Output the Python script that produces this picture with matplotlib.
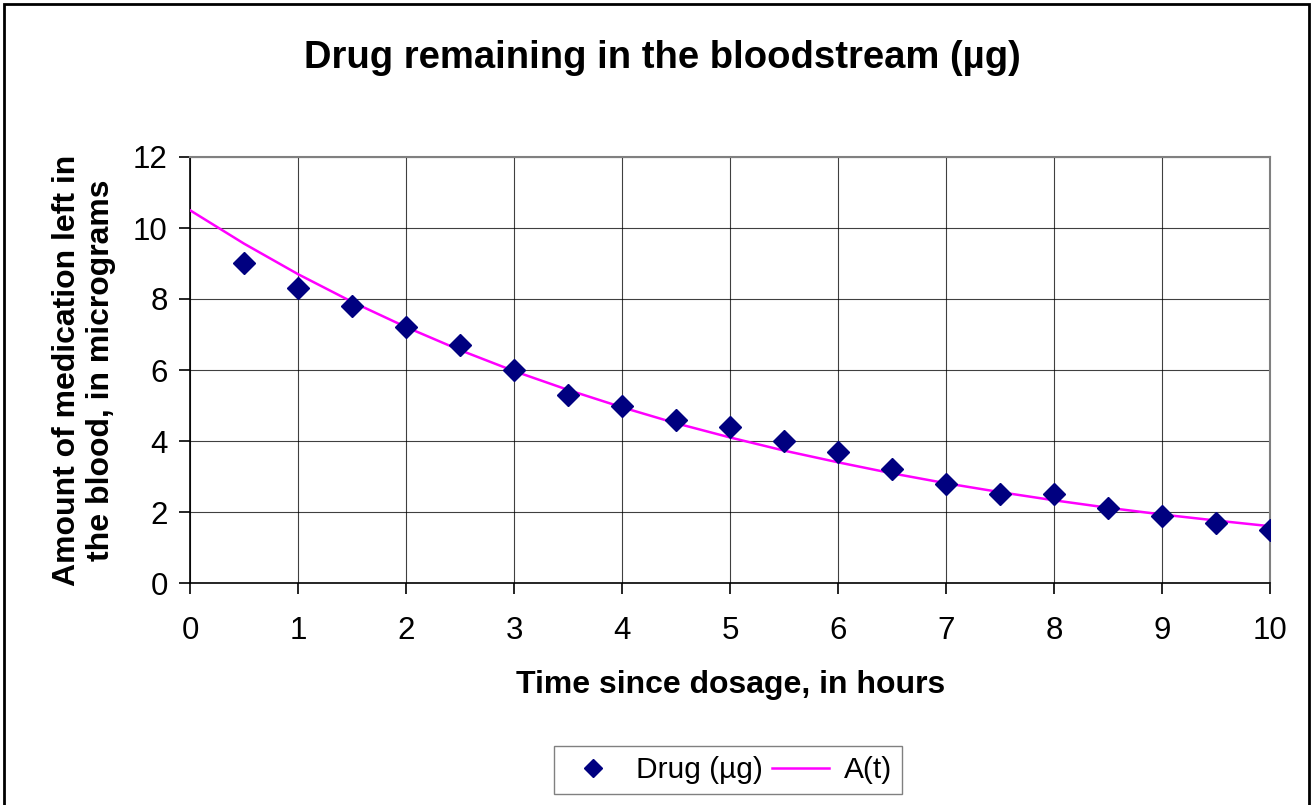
import matplotlib
matplotlib.use("Agg")
import matplotlib.pyplot as plt
from matplotlib.patches import Rectangle

plt.rcParams['font.family'] = ['Liberation Sans', 'DejaVu Sans']

# Observed data
hours = [0.5, 1, 1.5, 2, 2.5, 3, 3.5, 4, 4.5, 5, 5.5, 6, 6.5, 7, 7.5, 8, 8.5, 9, 9.5, 10]
drug = [9.0, 8.3, 7.8, 7.2, 6.7, 6.0, 5.3, 5.0, 4.6, 4.4, 4.0, 3.7, 3.2, 2.8, 2.5, 2.5, 2.1, 1.9, 1.7, 1.5]

# Model curve A(t)
curve_t = [0, 0.5, 1, 1.5, 2, 2.5, 3, 3.5, 4, 4.5, 5, 5.5, 6, 6.5, 7, 7.5, 8, 8.5, 9, 9.5, 10]
curve_a = [10.5, 9.56, 8.70, 7.92, 7.21, 6.56, 5.97, 5.44, 4.95, 4.50, 4.10, 3.73, 3.40,
           3.09, 2.81, 2.56, 2.33, 2.12, 1.93, 1.76, 1.60]

x_ticks = list(range(0, 11))
y_ticks = [0, 2, 4, 6, 8, 10, 12]

W, H = 1312, 805
fig = plt.figure(figsize=(W / 100, H / 100), dpi=100)
ax = fig.add_axes([190 / W, 1 - 583 / H, (1270 - 190) / W, (583 - 157) / H])

ax.plot(curve_t, curve_a, color='#FF00FF', lw=1.8, label='A(t)', zorder=3)
ax.plot(hours, drug, linestyle='none', marker='D', markersize=11, color='#000080',
        label='Drug (µg)', zorder=4)

ax.set_xlim(0, 10)
ax.set_ylim(0, 12)
ax.set_xticks(x_ticks)
ax.set_yticks(y_ticks)
ax.tick_params(labelsize=22.5, length=8, width=1.2, color='black')
ax.tick_params(axis='x', pad=16)
ax.tick_params(axis='y', pad=8)
ax.grid(True, color='black', lw=0.8, alpha=0.75)
ax.set_axisbelow(True)
for side in ['top', 'right']:
    ax.spines[side].set_color('#808080')
    ax.spines[side].set_linewidth(1.5)
for side in ['left', 'bottom']:
    ax.spines[side].set_color('black')
    ax.spines[side].set_linewidth(1.2)

fig.text(662 / W, 1 - 58 / H, 'Drug remaining in the bloodstream (µg)', ha='center', va='center',
         fontsize=27.5, fontweight='bold')
fig.text(731 / W, 1 - 685 / H, 'Time since dosage, in hours', ha='center', va='center',
         fontsize=23, fontweight='bold')
fig.text(84 / W, 1 - 370 / H, 'Amount of medication left in\nthe blood, in micrograms',
         ha='center', va='center', rotation=90, fontsize=23, fontweight='bold', linespacing=1.2)

handles, labels = ax.get_legend_handles_labels()
leg = fig.legend([handles[1], handles[0]], [labels[1], labels[0]], loc='center',
                 bbox_to_anchor=(728 / W, 1 - 770 / H), ncol=2, fontsize=21.5, frameon=True,
                 fancybox=False, edgecolor='#606060', handlelength=1.9, columnspacing=0.3,
                 handletextpad=0.5, borderpad=0.35)
leg.get_frame().set_linewidth(1.0)
leg.legend_handles[0].set_markersize(9)

fig.patches.append(Rectangle((4 / W, -0.02), (1309 - 4) / W, 1 - 4 / H + 0.02,
                             transform=fig.transFigure, fill=False, edgecolor='black', lw=2))

fig.savefig('out.png', dpi=100)
